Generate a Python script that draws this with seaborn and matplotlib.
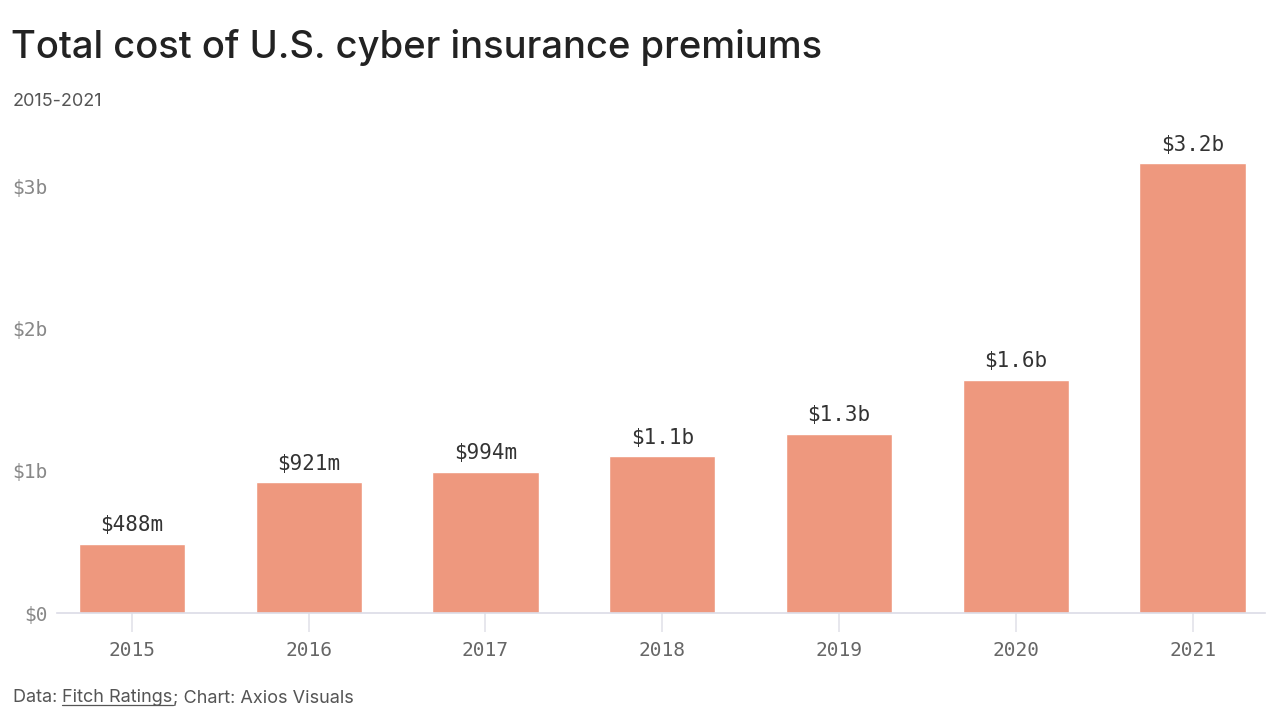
import matplotlib
matplotlib.use("Agg")
import matplotlib.pyplot as plt
import seaborn as sns
import pandas as pd
from matplotlib.lines import Line2D

years = ["2015", "2016", "2017", "2018", "2019", "2020", "2021"]
premiums_b = [0.488, 0.921, 0.994, 1.10, 1.26, 1.64, 3.16]
value_labels = ["$488m", "$921m", "$994m", "$1.1b", "$1.3b", "$1.6b", "$3.2b"]
ytick_vals = [0, 1, 2, 3]
ytick_labels = ["$0", "$1b", "$2b", "$3b"]

df = pd.DataFrame({"year": years, "premium": premiums_b})

sns.set_style("white")
plt.rcParams["font.family"] = ["Inter", "DejaVu Sans"]
mono = "DejaVu Sans Mono"
bar_color = "#ee987e"

fig = plt.figure(figsize=(12.8, 7.2), dpi=100)
# axes placed so baseline sits at y=613px and spans 57..1265px
ax = fig.add_axes([57 / 1280, 1 - 613 / 720, (1265 - 57) / 1280, (613 - 140) / 720])

sns.barplot(data=df, x="year", y="premium", color=bar_color, width=0.6,
            saturation=1, ax=ax)

ax.set_xlim(-0.424, 6.41)
ax.set_ylim(0, (613 - 140) / 142.3)

for i, (v, lab) in enumerate(zip(premiums_b, value_labels)):
    ax.annotate(lab, (i, v), xytext=(0, 6), textcoords="offset points",
                ha="center", va="bottom", fontsize=15, family=mono,
                color="#333333")

ax.set_yticks(ytick_vals)
ax.set_yticklabels(ytick_labels, family=mono, fontsize=14, color="#888888")
ax.set_xticks(range(len(years)))
ax.set_xticklabels(years, family=mono, fontsize=14, color="#666666")
ax.tick_params(axis="y", length=0, pad=7)
ax.tick_params(axis="x", bottom=True, length=14, width=1.2, color="#e3e3ea", pad=6)
ax.set_xlabel("")
ax.set_ylabel("")
for s in ["top", "right", "left"]:
    ax.spines[s].set_visible(False)
ax.spines["bottom"].set_color("#dcdce6")
ax.spines["bottom"].set_linewidth(1.2)

fig.text(11 / 1280, 1 - 47 / 720, "Total cost of U.S. cyber insurance premiums",
         fontsize=27.5, fontweight="medium", color="#222222", va="center", ha="left")
fig.text(13 / 1280, 1 - 101 / 720, "2015-2021", fontsize=13, color="#555555",
         va="center", ha="left")

# footer with underlined source name
fig.canvas.draw()
r = fig.canvas.get_renderer()
fy = 1 - 698 / 720
fs = 13
t1 = fig.text(13 / 1280, fy, "Data: ", fontsize=fs, color="#555555", va="center")
bb = t1.get_window_extent(r)
t2 = fig.text(bb.x1 / 1280, fy, "Fitch Ratings", fontsize=fs, color="#555555", va="center")
bb2 = t2.get_window_extent(r)
fig.text(bb2.x1 / 1280, fy, "; Chart: Axios Visuals", fontsize=fs, color="#555555", va="center")
uy = (bb2.y0 + 2) / 720
fig.add_artist(Line2D([bb2.x0 / 1280, bb2.x1 / 1280], [uy, uy],
                      color="#555555", lw=0.9, transform=fig.transFigure))

fig.savefig("out.png", dpi=100, facecolor="white")
